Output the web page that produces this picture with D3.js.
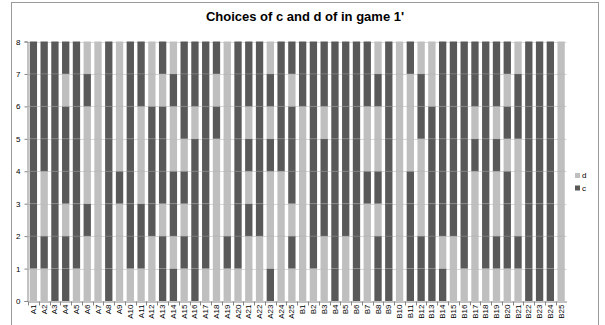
<!DOCTYPE html>
<html>
<head>
  <meta charset="utf-8">
  <style>
	body { margin: 0; background: #fff; }
	text { font-family: "Liberation Sans", Arial, sans-serif; fill: #000; }
  </style>
</head>
<body>
	<div id="chart"></div>
<script src="https://d3js.org/d3.v7.min.js"></script>
<script>

	// players, in the order of the x axis
	const players = [
		"A1","A2","A3","A4","A5","A6","A7","A8","A9","A10","A11","A12","A13",
		"A14","A15","A16","A17","A18","A19","A20","A21","A22","A23","A24","A25",
		"B1","B2","B3","B4","B5","B6","B7","B8","B9","B10","B11","B12","B13",
		"B14","B15","B16","B17","B18","B19","B20","B21","B22","B23","B24","B25"
	];

	// choice in each of the 8 rounds, bottom to top
	const choices = [
		"dccccccc","dcddcccc","cccccccc","ccdcccdc","dccccccc","ddcdddcd","dddddddd",
		"cccccccc","dddcdddd","dccccccc","dccdddcc","ddccccdd","ccdcccdc","cdccddcd",
		"dcdcdccc","cccccdcc","dccccccc","dddddcdc","dcdddddd","dccccccc","ddcdcdcc",
		"ddcccccc","cdddcdcd","ddddcccc","dcdcccdc",
		"ddddddcc","dccccccc","ddcccdcc","cccccccc","ddcccccc","cccccccc","dddcddcc",
		"ccdcddcd","cccccccc","dddddddd","ccccdddc","ccdddccd","ccccccdd","cdcccccc",
		"ddcccccc","dccccccc","ddddcdcc","dccccccc","dcddcdcc","dcccdcdc","dcdddccd",
		"cccccccc","cccccccc","cccccccc","dddddddd"
	];

	const yTicks = [0, 1, 2, 3, 4, 5, 6, 7, 8];
	const legendKeys = ["d", "c"];

	const colors = { c: "#595959", d: "#bfbfbf" };

	const width = 605;
	const height = 325;

	const svg = d3.select('#chart')
		.append('svg')
		.attr('width', width)
		.attr('height', height);

	// outer chart border
	svg.append('rect')
		.attr('x', 11.5).attr('y', 2.5)
		.attr('width', 587).attr('height', 330)
		.attr('fill', 'none')
		.attr('stroke', '#9a9a9a');

	svg.append('text')
		.attr('x', 305).attr('y', 21)
		.attr('text-anchor', 'middle')
		.style('font-size', '13px')
		.style('font-weight', 'bold')
		.text("Choices of c and d of in game 1'");

	const x = d3.scaleBand()
		.domain(players)
		.range([28, 566.5])
		.paddingInner(0.32)
		.paddingOuter(0.16);

	const y = d3.scaleLinear()
		.domain([0, 8])
		.range([301, 41.5]);

	// gridlines
	svg.append('g')
		.selectAll('line')
		.data(yTicks.slice(1))
		.enter()
		.append('line')
		.attr('x1', 28).attr('x2', 566.5)
		.attr('y1', d => Math.round(y(d)) + 0.5)
		.attr('y2', d => Math.round(y(d)) + 0.5)
		.attr('stroke', '#d9d9d9');

	// one segment per round
	const segments = [];
	players.forEach((p, i) => {
		choices[i].split('').forEach((ch, r) => {
			segments.push({ player: p, round: r, choice: ch });
		});
	});

	svg.append('g')
		.selectAll('rect')
		.data(segments)
		.enter()
		.append('rect')
		.attr('x', d => x(d.player))
		.attr('width', x.bandwidth())
		.attr('y', d => y(d.round + 1))
		.attr('height', d => y(d.round) - y(d.round + 1))
		.attr('fill', d => colors[d.choice]);

	// faint seams between stacked segments
	svg.append('g')
		.selectAll('line')
		.data(segments.filter(d => d.round > 0))
		.enter()
		.append('line')
		.attr('x1', d => x(d.player))
		.attr('x2', d => x(d.player) + x.bandwidth())
		.attr('y1', d => y(d.round))
		.attr('y2', d => y(d.round))
		.attr('stroke', '#a0a0a0')
		.attr('stroke-opacity', 0.6)
		.attr('stroke-width', 0.6);

	// y axis
	const yAxis = svg.append('g')
		.attr('transform', 'translate(27.5,0)')
		.call(d3.axisLeft(y).tickValues(yTicks).tickSize(3).tickPadding(4));
	yAxis.select('.domain').attr('stroke', '#868686');
	yAxis.selectAll('.tick line').attr('stroke', '#868686');
	yAxis.selectAll('text').style('font-size', '8px').style('font-family', '"Liberation Sans", Arial, sans-serif');

	// x axis
	const xAxis = svg.append('g')
		.attr('transform', 'translate(0,301.5)')
		.call(d3.axisBottom(x).tickSize(0).tickSizeOuter(0));
	xAxis.select('.domain').attr('stroke', '#868686');
	xAxis.selectAll('.tick text')
		.attr('transform', 'rotate(-90)')
		.attr('x', -3)
		.attr('y', 0)
		.attr('dy', '0.32em')
		.attr('text-anchor', 'end')
		.style('font-size', '8px')
		.style('font-family', '"Liberation Sans", Arial, sans-serif');

	// tick marks between categories
	xAxis.append('g')
		.selectAll('line')
		.data(players)
		.enter()
		.append('line')
		.attr('x1', d => Math.round(x(d) - x.step() * x.paddingInner() / 2) + 0.5)
		.attr('x2', d => Math.round(x(d) - x.step() * x.paddingInner() / 2) + 0.5)
		.attr('y1', 0).attr('y2', 4)
		.attr('stroke', '#868686');

	// legend
	const legend = svg.append('g')
		.selectAll('g')
		.data(legendKeys)
		.enter()
		.append('g')
		.attr('transform', (d, i) => 'translate(575,' + (173 + i * 12.5) + ')');
	legend.append('rect')
		.attr('width', 5).attr('height', 5)
		.attr('fill', d => colors[d]);
	legend.append('text')
		.attr('x', 7).attr('y', 5)
		.style('font-size', '8px')
		.text(d => d);

</script>
</body>
</html>
